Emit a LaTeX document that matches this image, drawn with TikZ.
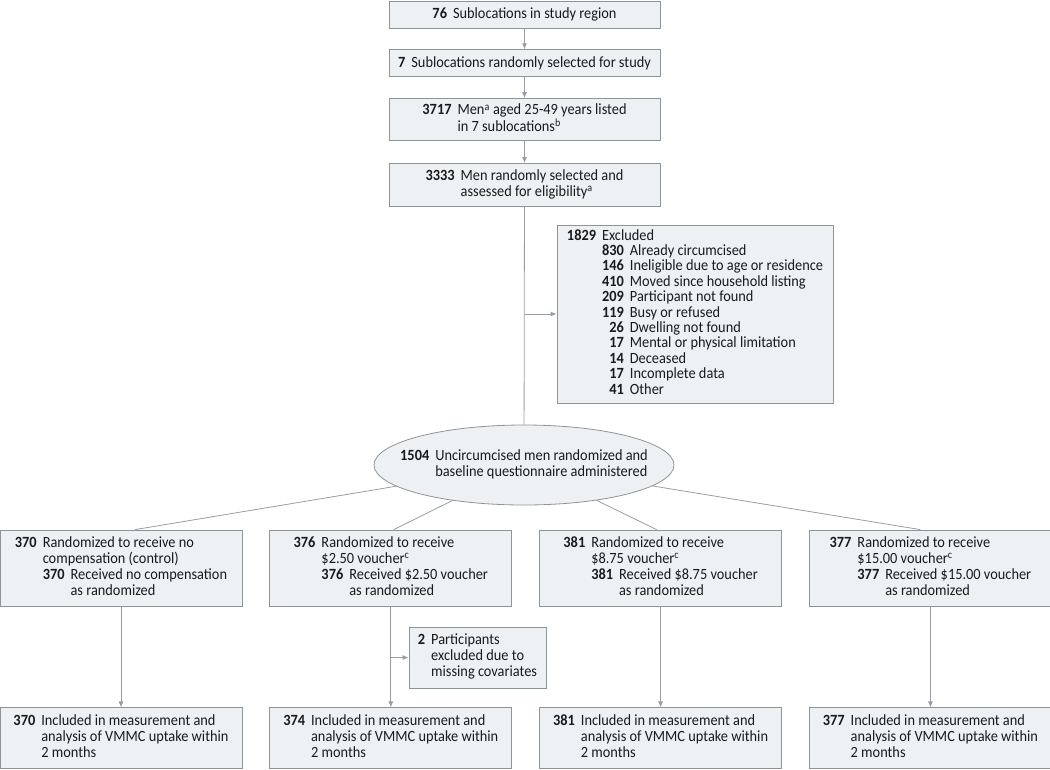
\documentclass[tikz,border=0pt]{standalone}
\usepackage{fontspec}
\setmainfont{Carlito}[Scale=1.2, FakeStretch=0.92]
\usepackage{tikz}
\usetikzlibrary{arrows.meta,positioning,shapes.geometric}
\definecolor{boxfill}{HTML}{EDF1F4}
\definecolor{boxline}{HTML}{8E949A}
\definecolor{linegray}{HTML}{999DA2}
\definecolor{ink}{HTML}{1A1A1A}
\newcommand{\cnt}[1]{\textbf{#1}}
\newcommand{\sups}[1]{\textsuperscript{#1}}
\newcommand{\wide}[1]{\multicolumn{2}{@{}l@{}}{#1}}
\newenvironment{onelist}{\begin{tabular}{@{}r@{\hspace{6pt}}l@{}}}{\end{tabular}}
\newenvironment{twolist}{\begin{tabular}{@{}r@{\hspace{6pt}}r@{\hspace{6pt}}l@{}}}{\end{tabular}}

\begin{document}
\begin{tikzpicture}[x=1pt, y=-1pt,
  node distance=21pt and 27pt,
  every node/.style={text=ink, font=\fontsize{13}{16}\selectfont},
  box/.style={draw=boxline, line width=0.8pt, fill=boxfill, inner sep=0pt, minimum height=27pt},
  stepbox/.style={box, minimum width=271pt},
  armbox/.style={box, minimum width=242pt, minimum height=76pt},
  endbox/.style={box, minimum width=242pt, minimum height=61pt},
  link/.style={draw=linegray, line width=0.8pt},
  arrow/.style={link, -{Latex[length=6pt,width=5pt]}}
]
\useasboundingbox (0,0) rectangle (1050,769);

% screening chain
\node[stepbox] (n76) at (524.5,14.5) {\cnt{76}\hspace{6pt}Sublocations in study region};
\node[stepbox, below=of n76] (n7) {\cnt{7}\hspace{6pt}Sublocations randomly selected for study};
\node[stepbox, below=of n7, minimum height=42pt] (n3717) {\begin{onelist}
  \cnt{3717} & Men\sups{a} aged 25-49 years listed\\
  & in 7 sublocations\sups{b}
\end{onelist}};
\node[stepbox, below=22pt of n3717, minimum height=43pt] (n3333) {\begin{onelist}
  \cnt{3333} & Men randomly selected and\\
  & assessed for eligibility\sups{a}
\end{onelist}};

\node[box, minimum width=276pt, minimum height=178pt, font=\fontsize{13}{15.2}\selectfont] (excl) at (695,314) {\begin{twolist}
  \cnt{1829} & \wide{Excluded}\\
  & \cnt{830} & Already circumcised\\
  & \cnt{146} & Ineligible due to age or residence\\
  & \cnt{410} & Moved since household listing\\
  & \cnt{209} & Participant not found\\
  & \cnt{119} & Busy or refused\\
  & \cnt{26} & Dwelling not found\\
  & \cnt{17} & Mental or physical limitation\\
  & \cnt{14} & Deceased\\
  & \cnt{17} & Incomplete data\\
  & \cnt{41} & Other
\end{twolist}};

% randomization
\node[ellipse, draw=boxline, line width=0.8pt, fill=boxfill, minimum width=300pt, minimum height=80pt, inner sep=0pt] (rand) at (524,465) {};
\node (randtxt) at (rand.center) {\begin{onelist}
  \cnt{1504} & Uncircumcised men randomized and\\
  & baseline questionnaire administered
\end{onelist}};

% arms
\node[armbox] (armA) at (121,568) {\begin{twolist}
  \cnt{370} & \wide{Randomized to receive no}\\
  & \wide{compensation (control)}\\
  & \cnt{370} & Received no compensation\\
  & & as randomized
\end{twolist}};
\node[armbox, right=of armA] (armB) {\begin{twolist}
  \cnt{376} & \wide{Randomized to receive}\\
  & \wide{\$2.50 voucher\sups{c}}\\
  & \cnt{376} & Received \$2.50 voucher\\
  & & as randomized
\end{twolist}};
\node[armbox, right=of armB] (armC) {\begin{twolist}
  \cnt{381} & \wide{Randomized to receive}\\
  & \wide{\$8.75 voucher\sups{c}}\\
  & \cnt{381} & Received \$8.75 voucher\\
  & & as randomized
\end{twolist}};
\node[armbox, right=of armC] (armD) {\begin{twolist}
  \cnt{377} & \wide{Randomized to receive}\\
  & \wide{\$15.00 voucher\sups{c}}\\
  & \cnt{377} & Received \$15.00 voucher\\
  & & as randomized
\end{twolist}};

\node[box, minimum width=137pt, minimum height=61pt] (drop) at (477.5,657.5) {\begin{onelist}
  \cnt{2} & Participants\\
  & excluded due to\\
  & missing covariates
\end{onelist}};

% analysed
\node[endbox, below=101pt of armA] (endA) {\begin{onelist}
  \cnt{370} & Included in measurement and\\
  & analysis of VMMC uptake within\\
  & 2 months
\end{onelist}};
\node[endbox, below=101pt of armB] (endB) {\begin{onelist}
  \cnt{374} & Included in measurement and\\
  & analysis of VMMC uptake within\\
  & 2 months
\end{onelist}};
\node[endbox, below=101pt of armC] (endC) {\begin{onelist}
  \cnt{381} & Included in measurement and\\
  & analysis of VMMC uptake within\\
  & 2 months
\end{onelist}};
\node[endbox, below=101pt of armD] (endD) {\begin{onelist}
  \cnt{377} & Included in measurement and\\
  & analysis of VMMC uptake within\\
  & 2 months
\end{onelist}};

\draw[arrow] (n76) -- (n7);
\draw[arrow] (n7) -- (n3717);
\draw[arrow] (n3717) -- (n3333);
\draw[link] (n3333) -- (rand);
\draw[arrow] (n3333.south |- excl.west) -- (excl);
\draw[link] (rand) -- ([xshift=14pt]armA.north);
\draw[link] (rand) -- ([xshift=3pt]armB.north);
\draw[link] (rand) -- ([xshift=-4pt]armC.north);
\draw[link] (rand) -- ([xshift=-10pt]armD.north);
\foreach \g in {A,B,C,D}
  \draw[arrow] (arm\g) -- (end\g);
\draw[arrow] (armB.south |- drop.west) -- (drop);
\end{tikzpicture}
\end{document}
